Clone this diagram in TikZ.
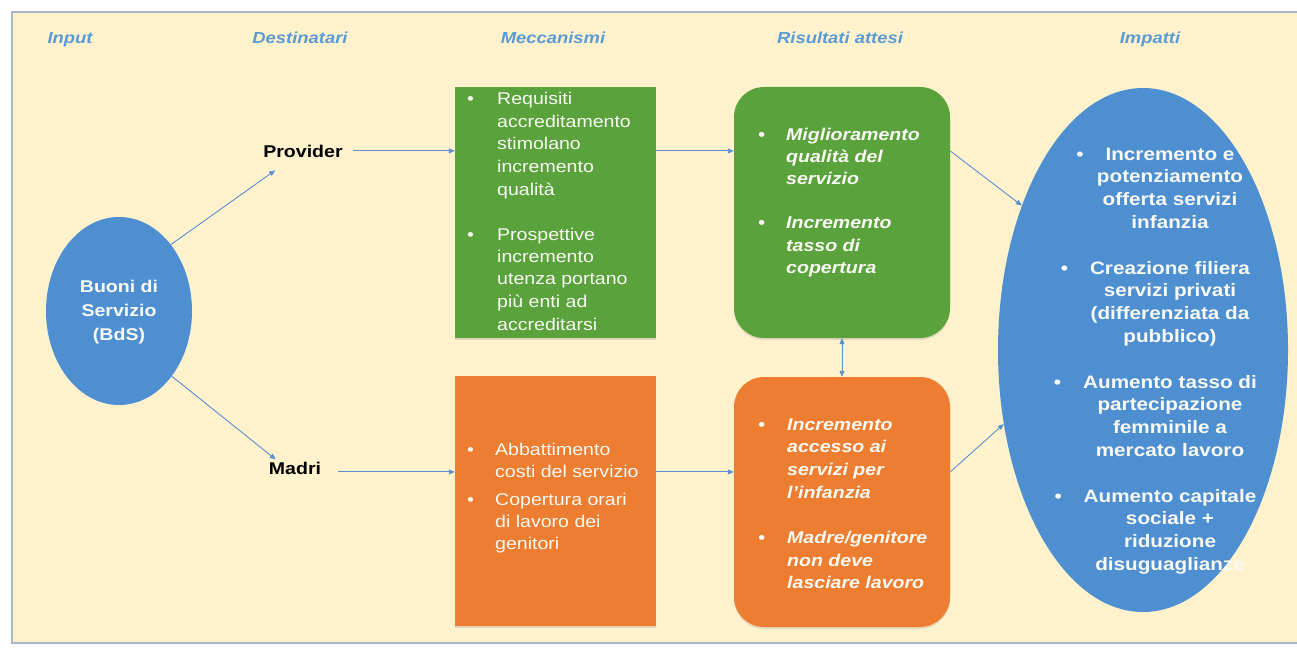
\documentclass[tikz,border=0pt]{standalone}
\usepackage{fontspec}
\setmainfont{Liberation Sans}[FakeStretch=1.15]
\usetikzlibrary{arrows.meta,shapes.geometric,shadows}
\definecolor{panel}{HTML}{FFF2CC}
\definecolor{frame}{HTML}{A9B7C6}
\definecolor{grn}{HTML}{5AA23B}
\definecolor{org}{HTML}{ED7D31}
\definecolor{blu}{HTML}{4E8FD1}
\definecolor{hdr}{HTML}{5B9BD5}
\definecolor{arr}{HTML}{5B8FCF}
\definecolor{txt}{HTML}{FAFAF5}
\newcommand{\bul}[1]{\makebox[#1][l]{\textbullet}}
\begin{document}
\begin{tikzpicture}[x=1pt,y=-1pt,
  hdrlabel/.style={font=\fontsize{16}{19}\selectfont\bfseries\itshape, text=hdr, inner sep=0, anchor=base},
  target/.style={font=\fontsize{17}{20}\selectfont\bfseries, text=black, inner sep=0, anchor=base},
  sqbox/.style={rectangle, inner sep=0, drop shadow={opacity=0.25, shadow xshift=0pt, shadow yshift=-2pt}},
  rbox/.style={rectangle, rounded corners=30pt, inner sep=0, drop shadow={opacity=0.2, shadow xshift=0pt, shadow yshift=-2pt}},
  txtblk/.style={anchor=base west, inner sep=0, text=txt},
  conn/.style={draw=arr, line width=0.9pt, -{Triangle[length=6pt,width=5pt]}},
  dconn/.style={draw=arr, line width=0.9pt, {Triangle[length=6pt,width=5pt]}-{Triangle[length=6pt,width=5pt]}}
]
\useasboundingbox (0,0) rectangle (1297,650);
\fill[white] (0,0) rectangle (1297,650);
% panel
\fill[panel] (12,12) rectangle (1300,643);
\draw[frame, line width=1.5pt] (1300,12) -- (12,12) -- (12,643) -- (1300,643);

% headers
\node[hdrlabel] (h1) at (70,44) {Input};
\node[hdrlabel] (h2) at (300,44) {Destinatari};
\node[hdrlabel] (h3) at (553,44) {Meccanismi};
\node[hdrlabel] (h4) at (840,44) {Risultati attesi};
\node[hdrlabel] (h5) at (1150,44) {Impatti};

% input ellipse
\node[ellipse, fill=blu, minimum width=146pt, minimum height=188pt, inner sep=0] (bds) at (119,311) {};
\node[anchor=base, inner sep=0, text=txt, font=\fontsize{17}{24}\selectfont\bfseries] (bdst) at (119,292)
  {\begin{tabular}[t]{@{}c@{}}Buoni di\\ Servizio\\ (BdS)\end{tabular}};

% targets
\node[target] (prov) at (303,157) {Provider};
\node[target] (madri) at (295,474) {Madri};

% mechanism boxes
\node[sqbox, fill=grn, minimum width=201pt, minimum height=251pt] (rect1) at (555.5,212.5) {};
\node[sqbox, fill=org, minimum width=201pt, minimum height=250pt] (rect2) at (555.5,501) {};
% result boxes
\node[rbox, fill=grn, minimum width=216pt, minimum height=251pt] (rr1) at (842,212.5) {};
\node[rbox, fill=org, minimum width=216pt, minimum height=250pt] (rr2) at (842,502) {};
% impact ellipse
\node[ellipse, fill=blu, minimum width=290pt, minimum height=524pt, inner sep=0] (big) at (1143,350) {};

% texts
\node[txtblk, font=\fontsize{17}{22.5}\selectfont] (t1) at (467,105) {\begin{tabular}[t]{@{}l@{}l@{}}
\bul{30pt}& Requisiti\\
& accreditamento\\
& stimolano\\
& incremento\\
& qualità\\
& \\
\bul{30pt}& Prospettive\\
& incremento\\
& utenza portano\\
& più enti ad\\
& accreditarsi
\end{tabular}};

\node[txtblk, font=\fontsize{17}{22}\selectfont] (t2) at (467,455) {\begin{tabular}[t]{@{}l@{}l@{}}
\bul{28pt}& Abbattimento\\
& costi del servizio\\[6pt]
\bul{28pt}& Copertura orari\\
& di lavoro dei\\
& genitori
\end{tabular}};

\node[txtblk, font=\fontsize{17}{22.2}\selectfont\bfseries\itshape] (t3) at (758,140) {\begin{tabular}[t]{@{}l@{}l@{}}
\bul{28pt}& Miglioramento\\
& qualità del\\
& servizio\\
& \\
\bul{28pt}& Incremento\\
& tasso di\\
& copertura
\end{tabular}};

\node[txtblk, font=\fontsize{17}{22.7}\selectfont\bfseries\itshape] (t4) at (758,430) {\begin{tabular}[t]{@{}l@{}l@{}}
\bul{29pt}& Incremento\\
& accesso ai\\
& servizi per\\
& l’infanzia\\
& \\
\bul{29pt}& Madre/genitore\\
& non deve\\
& lasciare lavoro
\end{tabular}};

\node[anchor=base, inner sep=0, text=txt, font=\fontsize{18}{22.8}\selectfont\bfseries] (t5) at (1170,160) {\begin{tabular}[t]{@{}c@{}}
\llap{\textbullet\hspace{22pt}}Incremento e\\
potenziamento\\
offerta servizi\\
infanzia\\
\\
\llap{\textbullet\hspace{22pt}}Creazione filiera\\
servizi privati\\
(differenziata da\\
pubblico)\\
\\
\llap{\textbullet\hspace{22pt}}Aumento tasso di\\
partecipazione\\
femminile a\\
mercato lavoro\\
\\
\llap{\textbullet\hspace{22pt}}Aumento capitale\\
sociale +\\
riduzione\\
disuguaglianze
\end{tabular}};

% connectors
\coordinate (p1) at ([xshift=10pt]prov.east);
\coordinate (m1) at ([shift={(17,4)}]madri.east);
\draw[conn] (bds.52) -- ([shift={(12,13)}]prov.south west);
\draw[conn] (bds.-51) -- ([shift={(7,-2)}]madri.north west);
\draw[conn] (p1) -- (p1 -| rect1.west);
\draw[conn] (m1) -- (m1 -| rect2.west);
\draw[conn] (p1 -| rect1.east) -- (p1 -| rr1.west);
\draw[conn] (m1 -| rect2.east) -- (m1 -| rr2.west);
\draw[dconn] (rr1.south) -- (rr2.north);
\draw[conn] (p1 -| rr1.east) -- (big.130);
\draw[conn] (m1 -| rr2.east) -- (big.208);
\end{tikzpicture}
\end{document}
